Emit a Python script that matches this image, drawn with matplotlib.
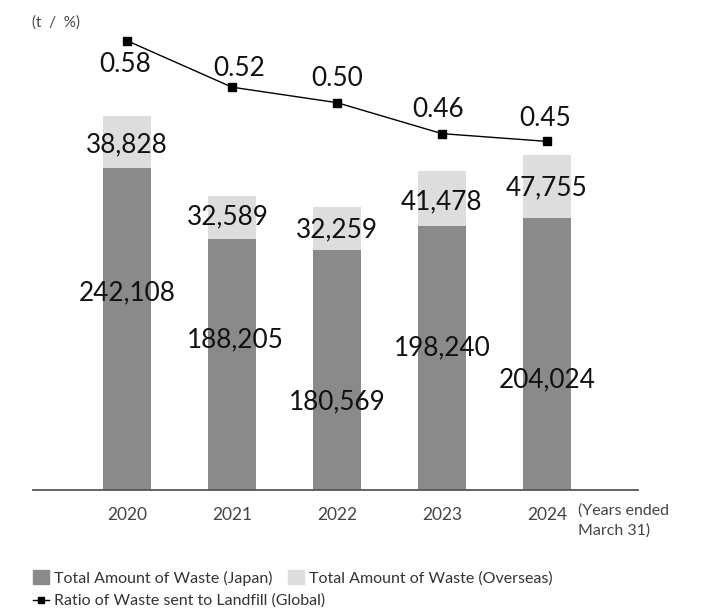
import numpy as np
import matplotlib
matplotlib.use('Agg')
import matplotlib.pyplot as plt
from matplotlib.patches import Patch
from matplotlib.lines import Line2D

plt.rcParams['font.family'] = ['Lato', 'DejaVu Sans']

# data
years = ['2020', '2021', '2022', '2023', '2024']
japan = [242108, 188205, 180569, 198240, 204024]
overseas = [38828, 32589, 32259, 41478, 47755]
landfill = [0.58, 0.52, 0.50, 0.46, 0.45]

# where the value labels sit (bar axis units / line axis offsets in px)
japan_label_y = [148000, 112700, 66100, 106700, 82600]
japan_label_dx = [0.0, 0.03, 0.0, 0.0, 0.0]
overseas_label_y = [259200, 205100, 195300, 216300, 226900]
overseas_label_dx = [0.0, -0.04, 0.0, 0.0, 0.0]
ratio_label_dy = [-24, 19, 24, 24, 23]
ratio_label_dx = [-2, 7, 0, -4, -2]

c_japan = '#8a8a8a'
c_over = '#dcdddc'
big = 18.8

fig = plt.figure(figsize=(7.03, 6.12), dpi=100)
ax = fig.add_axes([33 / 703, 122 / 612, 605 / 703, 470 / 612])

x = np.arange(len(years))
w = 0.457
ax.bar(x, japan, w, color=c_japan, zorder=2)
ax.bar(x, overseas, w, bottom=japan, color=c_over, zorder=2)

ax.set_xlim(-0.895, 4.867)
ax.set_ylim(0, 353070)
for s in ['top', 'left', 'right']:
    ax.spines[s].set_visible(False)
ax.spines['bottom'].set_color('#555555')
ax.spines['bottom'].set_linewidth(1.3)
ax.set_yticks([])
ax.set_xticks(x)
ax.set_xticklabels(years, fontsize=12.5, color='#444444')
ax.tick_params(axis='x', length=0, pad=12)

for i in range(len(years)):
    ax.text(x[i] + japan_label_dx[i], japan_label_y[i], f'{japan[i]:,}',
            ha='center', va='center', fontsize=big, color='#111111', zorder=4)
    ax.text(x[i] + overseas_label_dx[i], overseas_label_y[i], f'{overseas[i]:,}',
            ha='center', va='center', fontsize=big, color='#111111', zorder=4)

ax2 = ax.twinx()
ax2.set_ylim(0, 0.6067)
ax2.axis('off')
ax2.plot(x, landfill, color='black', linewidth=1, marker='s', markersize=6, zorder=5)
for i in range(len(years)):
    ax2.annotate(f'{landfill[i]:.2f}', (x[i], landfill[i]),
                 xytext=(ratio_label_dx[i], ratio_label_dy[i]), textcoords='offset pixels',
                 ha='center', va='center', fontsize=big, color='#111111')

fig.text(32 / 703, 1 - 23 / 612, '(t  /  %)', fontsize=11, color='#444444', va='center')
fig.text(578 / 703, 1 - 511 / 612, '(Years ended', fontsize=11.5, color='#444444', va='center')
fig.text(578 / 703, 1 - 531 / 612, 'March 31)', fontsize=11.5, color='#444444', va='center')

h1 = [Patch(color=c_japan), Patch(color=c_over)]
leg1 = fig.legend(h1, ['Total Amount of Waste (Japan)', 'Total Amount of Waste (Overseas)'],
                  loc='center left', bbox_to_anchor=(33 / 703, 1 - 578 / 612), ncol=2,
                  frameon=False, fontsize=11.5, handlelength=1.0, handleheight=1.0,
                  handletextpad=0.3, columnspacing=1.0, borderaxespad=0, borderpad=0,
                  labelcolor='#333333')
h2 = [Line2D([], [], color='black', marker='s', markersize=5, linewidth=1)]
leg2 = fig.legend(h2, ['Ratio of Waste sent to Landfill (Global)'],
                  loc='center left', bbox_to_anchor=(33 / 703, 1 - 601 / 612),
                  frameon=False, fontsize=11.5, handlelength=1.0, handletextpad=0.3,
                  borderaxespad=0, borderpad=0, labelcolor='#333333')

fig.savefig('out.png', dpi=100)
